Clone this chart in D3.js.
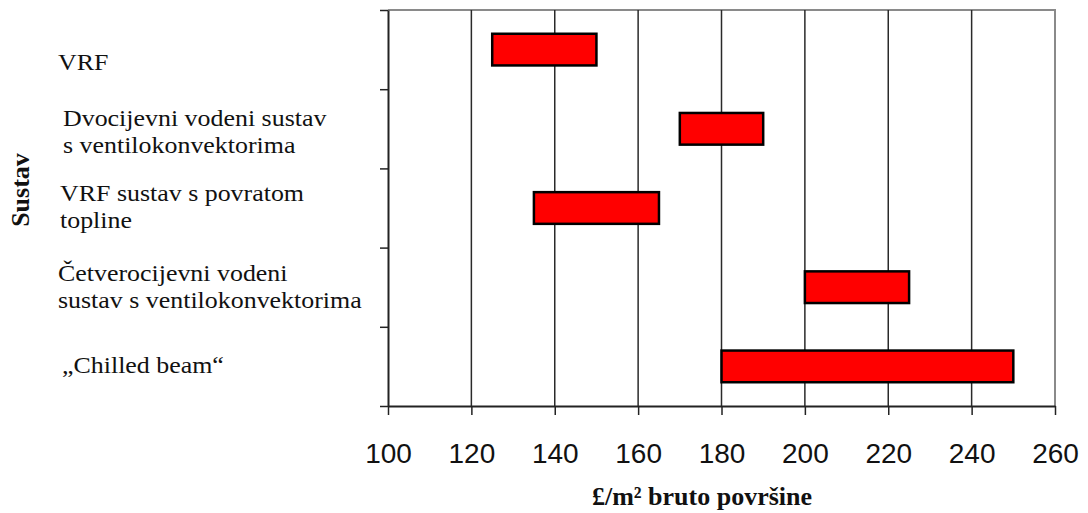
<!DOCTYPE html>
<html>
<head>
<meta charset="utf-8">
<script src="https://cdn.jsdelivr.net/npm/d3@7"></script>
<style>
  body { margin: 0; background: #fff; }
  svg { display: block; }
</style>
</head>
<body>
<svg id="chart" width="1088" height="513"></svg>
<script>
// data (£/m2 ranges per system)
var categories = [
  ["VRF"],
  ["Dvocijevni vodeni sustav", "s ventilokonvektorima"],
  ["VRF sustav s povratom", "topline"],
  ["Četverocijevni vodeni", "sustav s ventilokonvektorima"],
  ["\u201EChilled beam\u201C"]
];
var lowValues = [125, 170, 135, 200, 180];
var highValues = [150, 190, 165, 225, 250];
var xTicks = [100, 120, 140, 160, 180, 200, 220, 240, 260];
var xTitle = "£/m² bruto površine";
var yTitle = "Sustav";

// plot box (window.top is read-only, so no "top" here)
var plotL = 388, plotR = 1055, plotT = 10, plotB = 406;
var labelX = [58, 63, 60, 58, 62];   // labels are not left-aligned in the original
var labelDy = [20, 11, 7, 7, 7];     // baseline offset from band centre

var svg = d3.select("#chart");

var x = d3.scaleLinear().domain([100, 260]).range([plotL, plotR]);
var y = d3.scaleBand().domain(d3.range(categories.length)).range([plotT, plotB]).paddingInner(0.6).paddingOuter(0.3);
var yEdge = d3.scaleLinear().domain([0, categories.length]).range([plotT, plotB]);

// frame top/right
svg.append("path")
  .attr("d", "M" + plotL + "," + plotT + "H" + plotR + "V" + plotB)
  .attr("fill", "none").attr("stroke", "#8a8a8a").attr("stroke-width", 2);

// grid lines
svg.selectAll("line.grid")
  .data(xTicks.slice(1, -1))
  .enter()
  .append("line")
  .attr("class", "grid")
  .attr("x1", function (d) { return x(d); })
  .attr("x2", function (d) { return x(d); })
  .attr("y1", plotT).attr("y2", plotB)
  .attr("stroke", "#2a2a2a").attr("stroke-width", 1.5);

// x axis
var xAxis = svg.append("g")
  .attr("transform", "translate(0," + plotB + ")")
  .call(d3.axisBottom(x).tickValues(xTicks).tickSize(9).tickSizeOuter(0).tickPadding(28));
xAxis.select(".domain").attr("stroke", "#222").attr("stroke-width", 2);
xAxis.selectAll(".tick line").attr("stroke", "#222").attr("stroke-width", 1.5);
xAxis.selectAll(".tick text")
  .attr("font-family", "'Liberation Sans', Arial, sans-serif")
  .attr("font-size", 28).attr("fill", "#111");

// y axis with ticks at band edges
var yAxis = svg.append("g")
  .attr("transform", "translate(" + plotL + ",0)")
  .call(d3.axisLeft(yEdge).ticks(categories.length).tickSize(8).tickSizeOuter(0).tickFormat(""));
yAxis.select(".domain").attr("stroke", "#222").attr("stroke-width", 2);
yAxis.selectAll(".tick line").attr("stroke", "#222").attr("stroke-width", 1.5);

// bars
svg.selectAll("rect.bar")
  .data(categories)
  .enter()
  .append("rect")
  .attr("class", "bar")
  .attr("x", function (d, i) { return x(lowValues[i]); })
  .attr("y", function (d, i) { return y(i); })
  .attr("width", function (d, i) { return x(highValues[i]) - x(lowValues[i]); })
  .attr("height", y.bandwidth())
  .attr("fill", "#ff0000").attr("stroke", "#000").attr("stroke-width", 2.5);

// category labels (original text is slightly stretched sideways)
var lineH = 27;
svg.selectAll("text.cat")
  .data(categories)
  .enter()
  .append("text")
  .attr("class", "cat")
  .attr("transform", function (d, i) { return "translate(" + labelX[i] + ",0) scale(1.08,1)"; })
  .attr("font-family", "'Liberation Serif', 'Times New Roman', serif")
  .attr("font-size", 24).attr("fill", "#111")
  .each(function (d, i) {
    var cy = y(i) + y.bandwidth() / 2 + labelDy[i];
    var t = d3.select(this);
    d.forEach(function (line, j) {
      t.append("tspan")
        .attr("x", 0)
        .attr("y", cy + (j - (d.length - 1) / 2) * lineH)
        .text(line);
    });
  });

// axis titles
svg.append("text")
  .attr("x", 702).attr("y", 505)
  .attr("text-anchor", "middle")
  .attr("font-family", "'Liberation Serif', 'Times New Roman', serif")
  .attr("font-weight", "bold").attr("font-size", 26).attr("fill", "#111")
  .text(xTitle);

svg.append("text")
  .attr("transform", "translate(29," + 190 + ") rotate(-90)")
  .attr("text-anchor", "middle")
  .attr("font-family", "'Liberation Serif', 'Times New Roman', serif")
  .attr("font-weight", "bold").attr("font-size", 26).attr("fill", "#111")
  .text(yTitle);
</script>
</body>
</html>
